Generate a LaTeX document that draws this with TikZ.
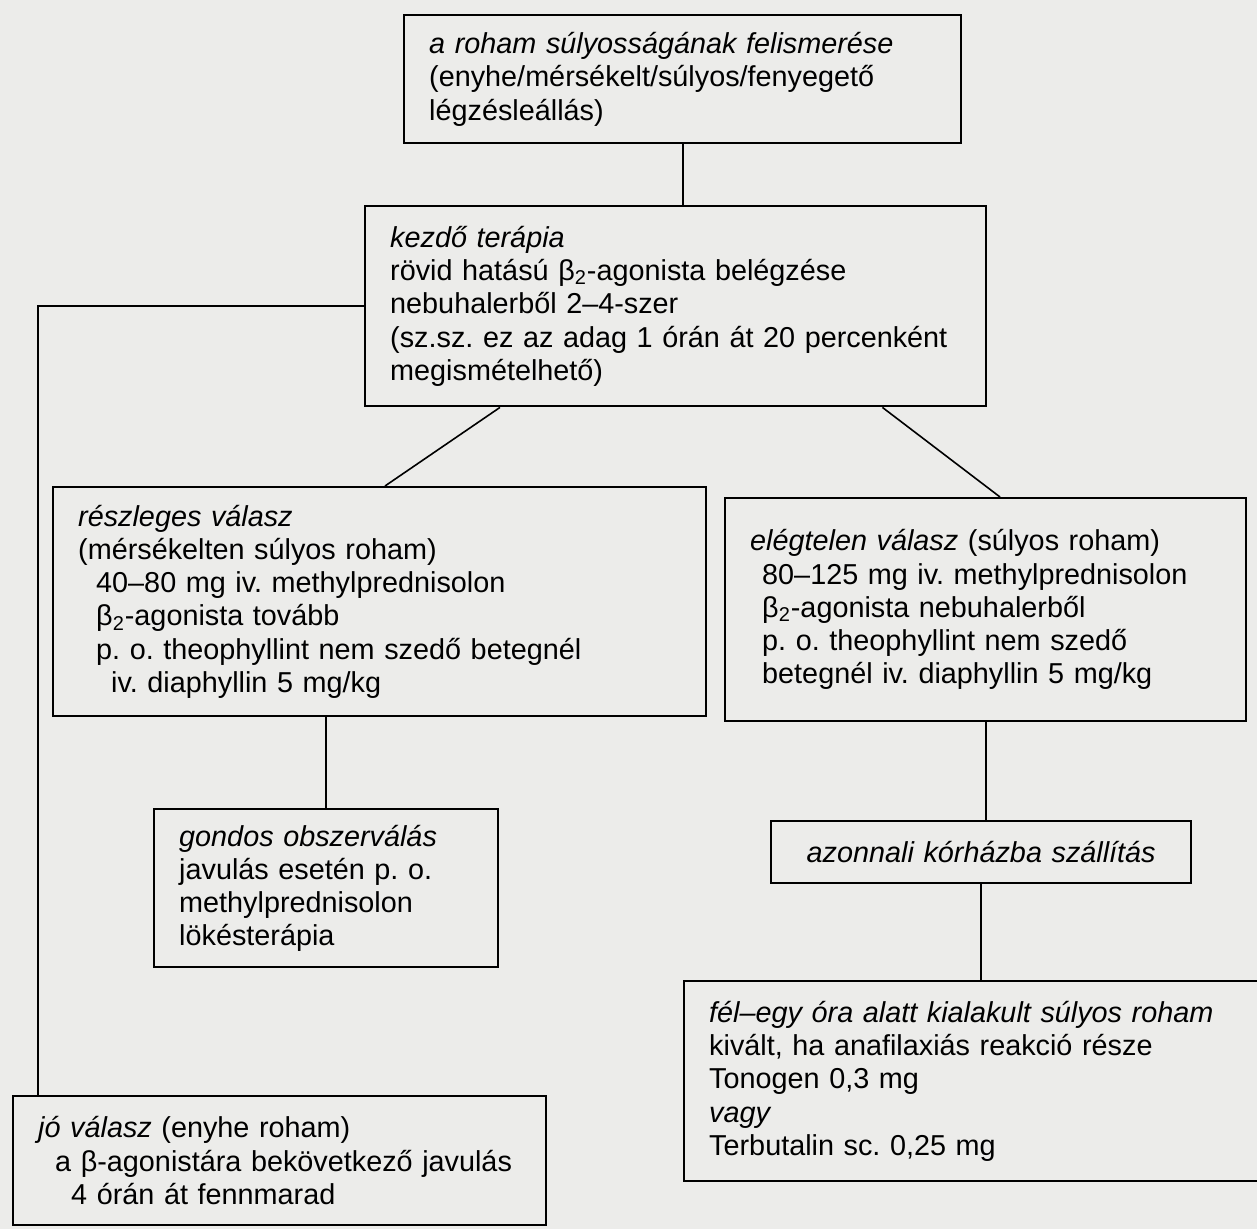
\documentclass[tikz,border=0pt]{standalone}
\usepackage{fontspec}
\setmainfont{Liberation Sans}
\usetikzlibrary{calc}
\frenchspacing

\definecolor{scangray}{RGB}{236,236,234}

\begin{document}
\begin{tikzpicture}[x=0.5pt,y=-0.5pt,
  stage/.style={draw=black, line width=1.2pt, rectangle, anchor=north west,
    align=left, inner xsep=12.5pt, inner ysep=0pt,
    font=\fontsize{14.4}{16.6}\selectfont},
  link/.style={draw=black, line width=0.8pt}]

\useasboundingbox (0,0) rectangle (1257,1229);
\clip (0,0) rectangle (1257,1229);
\fill[scangray] (0,0) rectangle (1257,1229);


\node[stage, text width=253.5pt, minimum height=64pt] (recog) at (403,14)
  {\textit{a roham súlyosságának felismerése}\\
   (enyhe/mérsékelt/súlyos/fenyegető\\
   légzésleállás)};

\node[stage, text width=285.5pt, minimum height=100pt] (ther) at (364,205)
  {\textit{kezdő terápia}\\
   rövid hatású β\textsubscript{2}-agonista belégzése\\
   nebuhalerből 2–4-szer\\
   (sz.sz. ez az adag 1 órán át 20 percenként\\
   megismételhető)};

\node[stage, text width=301.5pt, minimum height=114.5pt] (part) at (52,486)
  {\textit{részleges válasz}\\
   (mérsékelten súlyos roham)\\
   \hspace*{9pt}40–80 mg iv. methylprednisolon\\
   \hspace*{9pt}β\textsubscript{2}-agonista tovább\\
   \hspace*{9pt}p. o. theophyllint nem szedő betegnél\\
   \hspace*{16.5pt}iv. diaphyllin 5 mg/kg};

\node[stage, text width=235.5pt, minimum height=111.5pt] (poor) at (724,497)
  {\textit{elégtelen válasz} (súlyos roham)\\
   \hspace*{6pt}80–125 mg iv. methylprednisolon\\
   \hspace*{6pt}β\textsubscript{2}-agonista nebuhalerből\\
   \hspace*{6pt}p. o. theophyllint nem szedő\\
   \hspace*{6pt}betegnél iv. diaphyllin 5 mg/kg};

\node[stage, text width=147pt, minimum height=79pt] (obs) at (153,808)
  {\textit{gondos obszerválás}\\
   javulás esetén p. o.\\
   methylprednisolon\\
   lökésterápia};

\node[stage, align=center, text width=185pt, minimum height=31pt] (hosp) at (770,820)
  {\textit{azonnali kórházba szállítás}};

\node[stage, text width=285pt, minimum height=100pt] (fast) at (683,980)
  {\textit{fél–egy óra alatt kialakult súlyos roham}\\
   kivált, ha anafilaxiás reakció része\\
   Tonogen 0,3 mg\\
   \textit{vagy}\\
   Terbutalin sc. 0,25 mg};

\node[stage, text width=241.5pt, minimum height=64.5pt] (good) at (12,1095)
  {\textit{jó válasz} (enyhe roham)\\
   \hspace*{8.5pt}a β-agonistára bekövetkező javulás\\
   \hspace*{16.5pt}4 órán át fennmarad};


\draw[link] (recog.south) -- (recog.south |- ther.north);
\draw[link] (ther.west) -| ($(good.north west)+(26,0)$);

\draw[link] ($(ther.south west)+(136,0)$) -- ($(part.north west)+(333,0)$);
\draw[link] ($(ther.south east)+(-105,0)$) -- ($(poor.north west)+(276,0)$);

\draw[link] (obs.north |- part.south) -- (obs.north);
\draw[link] (poor.south) -- (poor.south |- hosp.north);
\draw[link] (hosp.south) -- (hosp.south |- fast.north);

\end{tikzpicture}
\end{document}
